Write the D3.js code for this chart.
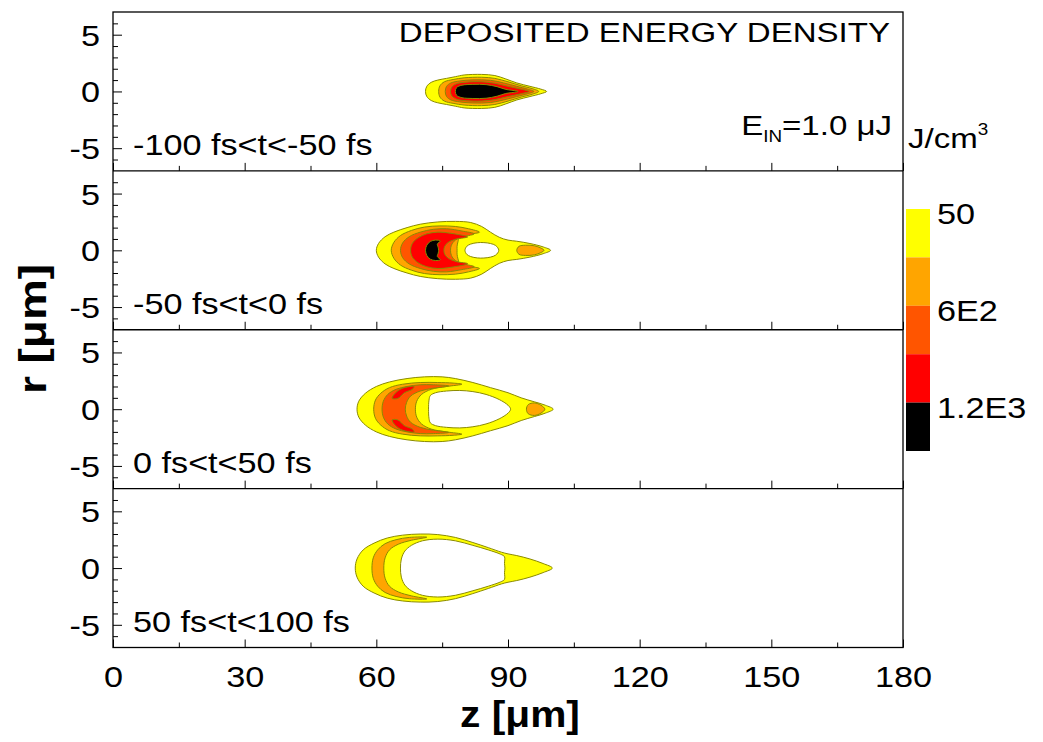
<!DOCTYPE html>
<html><head><meta charset="utf-8">
<script src="https://cdn.jsdelivr.net/npm/d3@7"></script>
<style>body{margin:0;background:#fff}svg{display:block}text{font-family:"Liberation Sans",Arial,sans-serif;fill:#000}</style>
</head><body><svg id="c" width="1043" height="742"></svg>
<script>
// ---------- data ----------
const panelLabels = ["-100 fs<t<-50 fs", "-50 fs<t<0 fs", "0 fs<t<50 fs", "50 fs<t<100 fs"];
const levelColors = ["#FFFF00", "#FFA500", "#FF5500", "#FF0000", "#000000"];
const holeColor = "#FFFFFF";
const colorbarLabels = ["50", "6E2", "1.2E3"];
const colorbarLabelPos = [0, 2, 4];
const zMajor = [0, 30, 60, 90, 120, 150, 180];
const zMinor = [15, 45, 75, 105, 135, 165];
const rMajor = [-5, 0, 5];
const rMinor = [-6, -4, -3, -2, -1, 1, 2, 3, 4, 6];

// upper halves (z, r) of symmetric contour regions, from axis to axis
const p1Yellow = [[71.2,0],[71.5,0.45],[72.5,0.8],[74,1.0],[76,1.15],[78,1.3],[80,1.45],[84,1.5],[87,1.4],[89.5,1.1],[92,0.75],[95,0.45],[97.5,0.2],[98.8,0]];
const p1Orange = [[74.2,0],[74.5,0.5],[75.5,0.85],[77.5,1.05],[80,1.2],[84,1.25],[87,1.15],[90,0.85],[93,0.5],[95.5,0.25],[97,0]];
const p1DarkOrange = [[75.7,0],[76,0.45],[77,0.75],[79,0.92],[82,1.02],[86,0.98],[89,0.75],[92,0.45],[94.5,0.2],[95.9,0]];
const p1Red = [[76.9,0],[77.2,0.4],[78.3,0.68],[80.5,0.82],[84,0.85],[87,0.72],[90,0.45],[93,0.2],[94.8,0]];
const p1Black = [[78,0],[78.3,0.35],[79.5,0.55],[82,0.62],[85,0.6],[87.5,0.42],[89.5,0.18],[92,0.04],[92.3,0]];

const p2Yellow = [[60,0],[60.5,0.6],[62,1.2],[64,1.6],[67,2.0],[70,2.3],[74,2.5],[78,2.55],[81.5,2.45],[84,2.1],[86,1.6],[88,1.15],[90,0.9],[92,0.8],[95,0.6],[98,0.3],[99.7,0]];
const p2Hole = [[80.2,0],[80.6,0.35],[81.5,0.55],[83,0.67],[84.5,0.68],[86,0.6],[87.2,0.42],[87.9,0]];
const p2OrangeC = [[63.4,0],[64,0.7],[65.5,1.3],[68,1.75],[71,2.05],[74.5,2.15],[78,2.1],[81,1.9],[83.5,1.6],[81,1.4],[79,1.15],[78.6,0.75],[78.4,0.35],[78.4,0]];
const p2OrangeTip = [[92,0],[92.5,0.35],[94,0.45],[96,0.4],[97.5,0.2],[98.2,0]];
const p2DarkOrangeC = [[65.5,0],[66,0.65],[67.5,1.2],[70,1.6],[73,1.85],[76,1.9],[79.5,1.7],[82.3,1.45],[80,1.2],[78,0.9],[77.1,0.45],[76.9,0]];
const p2RedC = [[67.8,0],[68.2,0.6],[69.5,1.1],[71.5,1.45],[74,1.6],[77,1.5],[80.8,1.18],[78.3,1.0],[76.4,0.7],[75.6,0.35],[75.4,0]];
const p2BlackC = [[71.2,0],[71.5,0.45],[72.3,0.78],[73.5,0.9],[74.6,0.82],[73.9,0.55],[74.1,0.25],[74.2,0]];

const p3Yellow = [[55.6,0],[56,0.7],[57.5,1.4],[60,2.0],[63,2.4],[67,2.7],[71,2.85],[75,2.85],[78,2.7],[82,2.35],[86,1.9],[90,1.45],[93,1.0],[96,0.65],[98.5,0.35],[100.3,0]];
const p3Hole = [[71.9,0],[72,0.8],[72.3,1.2],[73.5,1.45],[76,1.6],[79,1.65],[82,1.55],[85,1.3],[88,0.85],[90,0.35],[90.6,0]];
const p3OrangeTip = [[94.2,0],[94.6,0.4],[96,0.55],[97.5,0.35],[98.4,0]];
const p3OrangeC = [[59.4,0],[59.8,0.8],[61,1.4],[63,1.9],[66,2.2],[70,2.35],[74,2.35],[77.5,2.3],[79.5,2.2],[76,2.0],[72.5,1.75],[70.3,1.3],[69.2,0.7],[68.9,0]];
const p3DarkOrangeC = [[61.3,0],[61.6,0.7],[62.6,1.3],[64.5,1.75],[67,2.0],[70,2.15],[73,2.15],[76.5,2.05],[73,1.85],[70,1.6],[67.8,1.15],[66.9,0.6],[66.6,0]];
// off-axis patch (closed polygon, mirrored below the axis)
const p3RedPatch = [[63.6,0.95],[64.4,1.45],[66,1.85],[68.6,2.0],[68.2,1.75],[66.4,1.45],[64.9,0.95]];

const p4Yellow = [[55.2,0],[55.6,0.8],[57,1.6],[59.5,2.2],[62.5,2.65],[66,2.9],[70,3.0],[74,2.95],[78,2.7],[82,2.25],[85.5,1.8],[88.5,1.4],[90,1.25],[92,1.1],[95,0.8],[98,0.4],[100.1,0]];
const p4Hole = [[65.5,0],[65.7,0.8],[66.5,1.5],[68,2.0],[70.5,2.4],[74,2.55],[78,2.4],[82,2.0],[85.5,1.6],[88.3,1.22],[89.2,1.0],[89.2,0.4],[89.3,0]];
const p4OrangeC = [[59,0],[59.3,0.9],[60.3,1.6],[62,2.15],[64.5,2.5],[67.5,2.7],[71.5,2.72],[68,2.45],[65,2.1],[63,1.6],[62,0.9],[61.7,0]];

// table built from the arrays: [fill level (-1 = hole), points, kind]
const panels = [
  [[0,p1Yellow,"sym"],[1,p1Orange,"sym"],[2,p1DarkOrange,"sym"],[3,p1Red,"sym"],[4,p1Black,"sym"]],
  [[0,p2Yellow,"sym"],[-1,p2Hole,"sym"],[1,p2OrangeC,"sym"],[1,p2OrangeTip,"sym"],[2,p2DarkOrangeC,"sym"],[3,p2RedC,"sym"],[4,p2BlackC,"sym"]],
  [[0,p3Yellow,"sym"],[-1,p3Hole,"sym"],[1,p3OrangeTip,"sym"],[1,p3OrangeC,"sym"],[2,p3DarkOrangeC,"sym"],[3,p3RedPatch,"pair"]],
  [[0,p4Yellow,"sym"],[-1,p4Hole,"sym"],[1,p4OrangeC,"sym"]]
];

// ---------- layout ----------
const svg = d3.select("#c");
const L = 113, R = 903, T = 12, B = 647.5;
const nP = 4, ph = (B - T) / nP;
const SX = 1.18, FS = 29;
const x = d3.scaleLinear().domain([0, 180]).range([L, R]);

function stext(g, tx, ty, str, opts) {
  opts = opts || {};
  const t = g.append("text")
    .attr("transform", `translate(${tx},${ty}) scale(${opts.sx || SX},1)`)
    .attr("text-anchor", opts.anchor || "start")
    .style("font-size", (opts.fs || FS) + "px")
    .style("font-weight", opts.bold ? "bold" : "normal");
  if (str !== null) t.text(str);
  return t;
}

function fullSym(pts) {
  const lower = [];
  for (let i = pts.length - 2; i >= 1; i--) lower.push([pts[i][0], -pts[i][1]]);
  return pts.concat(lower);
}

panels.forEach((shapes, i) => {
  const top = T + i * ph, bot = top + ph;
  const y = d3.scaleLinear().domain([-7, 7]).range([bot, top]);
  const g = svg.append("g");
  const line = d3.line().x(d => x(d[0])).y(d => y(d[1])).curve(d3.curveCatmullRomClosed.alpha(0.5));
  shapes.forEach(([lev, pts, kind]) => {
    const polys = kind === "sym" ? [fullSym(pts)] : [pts, pts.map(p => [p[0], -p[1]])];
    polys.forEach(poly => {
      g.append("path").attr("d", line(poly))
        .attr("fill", lev < 0 ? holeColor : levelColors[lev])
        .attr("stroke", "#8a8a00").attr("stroke-width", 1);
    });
  });

  // y axis ticks (inward)
  const ay = g.append("g").attr("transform", `translate(${L},0)`);
  ay.call(d3.axisLeft(y).tickValues(rMinor).tickSizeInner(-5).tickSizeOuter(0).tickFormat(""));
  const ayM = g.append("g").attr("transform", `translate(${L},0)`);
  ayM.call(d3.axisLeft(y).tickValues(rMajor).tickSizeInner(-9).tickSizeOuter(0).tickPadding(13 / SX).tickFormat(d3.format("d")));
  [ay, ayM].forEach(a => { a.select(".domain").remove(); a.selectAll("line").attr("stroke", "#000"); });
  ayM.selectAll("text").attr("transform", `scale(${SX},1)`).style("font-size", FS + "px")
    .attr("font-family", null).attr("dy", "0.36em").text(d => d < 0 ? "-" + Math.abs(d) : d);

  // x axis ticks at bottom of each panel (inward)
  const ax = g.append("g").attr("transform", `translate(0,${bot})`);
  ax.call(d3.axisBottom(x).tickValues(zMinor).tickSizeInner(-5).tickSizeOuter(0).tickFormat(""));
  const axM = g.append("g").attr("transform", `translate(0,${bot})`);
  axM.call(d3.axisBottom(x).tickValues(zMajor).tickSizeInner(-8).tickSizeOuter(0).tickPadding(19)
    .tickFormat(i === nP - 1 ? d3.format("d") : ""));
  [ax, axM].forEach(a => { a.select(".domain").remove(); a.selectAll("line").attr("stroke", "#000"); });
  axM.selectAll("text").attr("transform", `scale(${SX},1)`).style("font-size", FS + "px").attr("font-family", null);

  // panel label
  stext(g, 133, bot - 16, panelLabels[i]);

  // divider
  if (i > 0) g.append("line").attr("x1", L).attr("x2", R).attr("y1", top).attr("y2", top).attr("stroke", "#000").attr("stroke-width", 1.3);
});

// frame
svg.append("rect").attr("x", L).attr("y", T).attr("width", R - L).attr("height", B - T)
  .attr("fill", "none").attr("stroke", "#000").attr("stroke-width", 1.3);

// titles
stext(svg, 890, 42, "DEPOSITED ENERGY DENSITY", { anchor: "end", fs: 28 });
const ein = stext(svg, 892, 135, null, { anchor: "end", fs: 28 });
ein.append("tspan").text("E");
ein.append("tspan").attr("dy", 7).style("font-size", "16px").text("IN");
ein.append("tspan").attr("dy", -7).text("=1.0 \u03BCJ");
const unit = stext(svg, 908, 148, null, { fs: 28 });
unit.append("tspan").text("J/cm");
unit.append("tspan").attr("dy", -13).style("font-size", "16px").text("3");

// axis titles
stext(svg, 520, 727, "z [\u03BCm]", { anchor: "middle", fs: 37, bold: true, sx: 1.1 });
svg.append("text").attr("transform", "translate(46,329) rotate(-90) scale(1.35,1.12)")
  .attr("text-anchor", "middle").style("font-size", "34px").style("font-weight", "bold").text("r [\u03BCm]");

// colorbar
const cb = d3.scaleLinear().domain([0, 5]).range([209, 451]);
levelColors.forEach((c, k) => {
  svg.append("rect").attr("x", 906).attr("width", 24).attr("y", cb(k)).attr("height", cb(k + 1) - cb(k)).attr("fill", c);
});
colorbarLabels.forEach((s, k) => {
  stext(svg, 937, cb(colorbarLabelPos[k]) + 5, s, { fs: FS }).attr("dy", "0.36em");
});
</script></body></html>
